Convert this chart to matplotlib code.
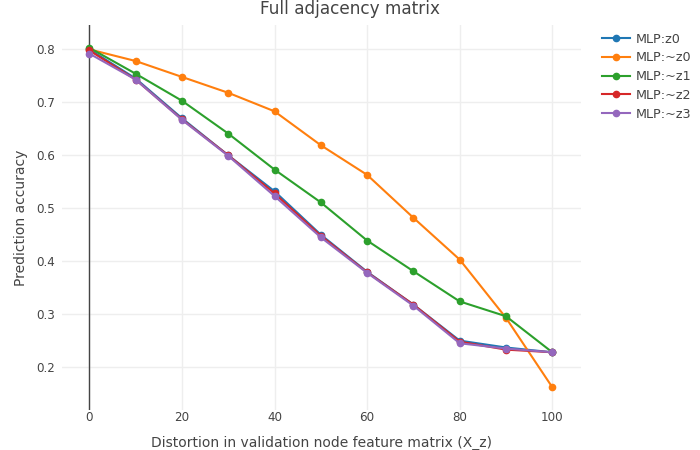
import matplotlib.pyplot as plt

plt.rcParams['font.family'] = ['DejaVu Sans']

# Distortion levels (x) and accuracies per model
distortion = [0, 10, 20, 30, 40, 50, 60, 70, 80, 90, 100]
mlp_z0 = [0.800, 0.745, 0.670, 0.600, 0.532, 0.450, 0.380, 0.318, 0.250, 0.237, 0.228]
mlp_nz0 = [0.800, 0.778, 0.748, 0.718, 0.683, 0.619, 0.563, 0.482, 0.403, 0.293, 0.162]
mlp_nz1 = [0.803, 0.754, 0.703, 0.641, 0.573, 0.511, 0.439, 0.381, 0.324, 0.296, 0.228]
mlp_nz2 = [0.798, 0.743, 0.668, 0.600, 0.528, 0.448, 0.379, 0.318, 0.248, 0.233, 0.228]
mlp_nz3 = [0.792, 0.743, 0.667, 0.599, 0.523, 0.445, 0.378, 0.316, 0.245, 0.235, 0.228]

series = [
    ('MLP:z0', mlp_z0, '#1f77b4'),
    ('MLP:~z0', mlp_nz0, '#ff7f0e'),
    ('MLP:~z1', mlp_nz1, '#2ca02c'),
    ('MLP:~z2', mlp_nz2, '#d62728'),
    ('MLP:~z3', mlp_nz3, '#9467bd'),
]

text_col = '#444444'

fig = plt.figure(figsize=(7, 4.5), dpi=100)
ax = fig.add_axes([62 / 700, 1 - 410 / 450, (581 - 62) / 700, (410 - 25) / 450])

for name, vals, col in series:
    ax.plot(distortion, vals, color=col, lw=1.5, marker='o', ms=4.5,
            label=name, zorder=3)

ax.set_xlim(-5.9, 106.2)
ax.set_ylim(0.119, 0.846)
ax.set_xticks([0, 20, 40, 60, 80, 100])
ax.set_yticks([0.2, 0.3, 0.4, 0.5, 0.6, 0.7, 0.8])
ax.set_yticklabels(['0.2', '0.3', '0.4', '0.5', '0.6', '0.7', '0.8'])
ax.grid(color='#eeeeee', lw=1)
ax.set_axisbelow(True)
ax.axvline(0, color=text_col, lw=1, zorder=2)
for s in ax.spines.values():
    s.set_visible(False)
ax.tick_params(length=0, colors=text_col, labelsize=8.6)
ax.tick_params(axis='x', pad=1)
ax.tick_params(axis='y', pad=5)

ax.set_xlabel('Distortion in validation node feature matrix (X_z)',
              fontsize=10, color=text_col, labelpad=8)
ax.set_ylabel('Prediction accuracy', fontsize=10, color=text_col, labelpad=6)
fig.text(0.5, 1 - 9 / 450, 'Full adjacency matrix', ha='center', va='center',
         fontsize=12.2, color=text_col)

leg = ax.legend(loc='upper left', bbox_to_anchor=(1.025, 1.0), frameon=False,
                fontsize=9.2, handlelength=2.2, labelspacing=0.45,
                handletextpad=0.5, borderaxespad=0.2)
for t in leg.get_texts():
    t.set_color(text_col)

fig.savefig('out.png', dpi=100)
